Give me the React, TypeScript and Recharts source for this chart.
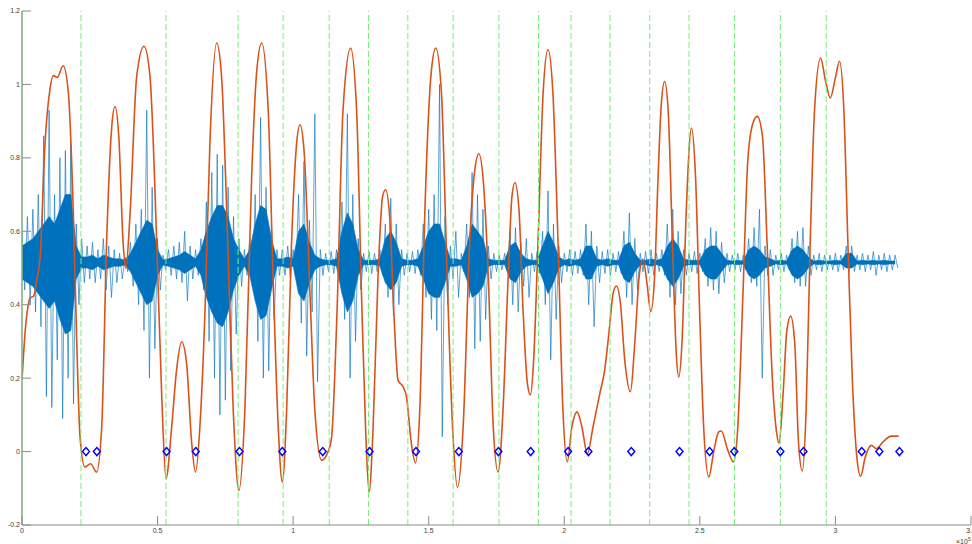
import React from 'react';
import { ComposedChart, Line, Area, Scatter, XAxis, YAxis, ReferenceLine } from 'recharts';

// x in units of 1e5 samples
const xTicks = [0, 0.5, 1, 1.5, 2, 2.5, 3, 3.5];
const yTicks = [-0.2, 0, 0.2, 0.4, 0.6, 0.8, 1, 1.2];

// waveform readings, one every 0.02 (x1e5): spike extremes and dense core band
const WAVE_STEP = 0.02;
const waveHi = [
  .60, .64, .66, .70, .86, .93, .70, .80, .82, .84,
  .62, .58, .56, .57, .55, .58, .56, .55, .54, .53,
  .57, .62, .66, .93, .72, .58, .535, .55, .56, .57,
  .60, .56, .55, .58, .68, .76, .81, .78, .72, .64,
  .58, .55, .58, .70, .91, .72, .62, .55, .55, .56,
  .55, .70, .79, .63, .92, .55, .54, .545, .55, .68,
  .92, .70, .58, .54, .545, .54, .55, .62, .69, .62,
  .55, .54, .545, .55, .62, .66, .70, 1.00, .64, .56,
  .60, .54, .62, .76, .70, .66, .56, .54, .535, .54,
  .60, .61, .57, .58, .54, .545, .60, .71, .62, .56,
  .54, .55, .545, .55, .62, .60, .56, .545, .55, .54,
  .545, .60, .65, .58, .54, .545, .55, .54, .55, .62,
  .66, .60, .55, .54, .545, .54, .58, .61, .60, .57,
  .54, .535, .54, .535, .58, .61, .66, .56, .55, .535,
  .54, .535, .58, .60, .61, .56, .535, .54, .535, .535,
  .54, .535, .56, .56, .535, .54, .535, .545, .535, .54,
  .535, .535,
];
const waveLo = [
  .44, .40, .38, .34, .15, .12, .25, .09, .20, .13,
  .40, .46, .47, .46, .47, .44, .42, .46, .47, .49,
  .45, .40, .33, .20, .28, .44, .495, .48, .47, .46,
  .41, .47, .48, .44, .30, .20, .10, .14, .22, .32,
  .45, .48, .45, .30, .20, .22, .36, .48, .48, .47,
  .48, .35, .26, .38, .19, .48, .49, .485, .48, .36,
  .20, .30, .44, .49, .485, .49, .48, .42, .37, .40,
  .48, .49, .485, .48, .42, .36, .33, .04, .40, .47,
  .42, .49, .42, .28, .30, .36, .47, .49, .495, .49,
  .40, .38, .45, .42, .49, .485, .40, .25, .36, .46,
  .49, .48, .485, .48, .40, .34, .46, .485, .48, .49,
  .485, .42, .40, .44, .49, .485, .48, .49, .48, .42,
  .40, .43, .48, .49, .485, .49, .45, .44, .43, .46,
  .49, .495, .49, .495, .46, .45, .20, .48, .48, .495,
  .49, .495, .46, .45, .45, .48, .495, .49, .495, .495,
  .49, .495, .49, .49, .495, .49, .495, .48, .495, .49,
  .495, .50,
];
const coreHi = [
  .56, .57, .58, .60, .62, .64, .62, .66, .70, .70,
  .56, .53, .53, .535, .525, .535, .53, .525, .525, .522,
  .54, .57, .60, .63, .62, .55, .522, .525, .53, .535,
  .545, .535, .525, .55, .60, .64, .67, .67, .64, .58,
  .55, .525, .55, .62, .67, .66, .58, .525, .525, .53,
  .525, .60, .62, .57, .535, .525, .521, .521, .525, .60,
  .65, .62, .55, .521, .521, .521, .525, .58, .60, .57,
  .525, .521, .521, .525, .56, .60, .62, .62, .57, .525,
  .525, .521, .56, .62, .60, .58, .525, .521, .521, .521,
  .56, .57, .54, .525, .521, .521, .56, .60, .57, .53,
  .521, .525, .521, .525, .56, .56, .525, .521, .525, .521,
  .521, .56, .57, .54, .521, .521, .525, .521, .525, .56,
  .58, .56, .525, .521, .521, .521, .55, .56, .56, .54,
  .521, .519, .521, .519, .55, .56, .55, .53, .525, .519,
  .521, .519, .55, .56, .55, .53, .519, .521, .519, .519,
  .521, .519, .54, .54, .519, .521, .519, .521, .519, .521,
  .519, .519,
];
const coreLo = [
  .47, .46, .45, .43, .41, .39, .41, .36, .32, .33,
  .47, .50, .50, .495, .505, .495, .50, .505, .505, .508,
  .49, .46, .43, .40, .41, .48, .508, .505, .50, .495,
  .485, .495, .505, .48, .42, .38, .35, .34, .38, .44,
  .48, .505, .48, .41, .36, .37, .44, .505, .505, .50,
  .505, .43, .41, .46, .495, .505, .509, .509, .505, .43,
  .38, .41, .48, .509, .509, .509, .505, .46, .44, .46,
  .505, .509, .509, .505, .47, .43, .42, .42, .46, .505,
  .505, .509, .47, .42, .43, .45, .505, .509, .509, .509,
  .47, .46, .49, .505, .509, .509, .47, .43, .46, .50,
  .509, .505, .509, .505, .47, .47, .505, .509, .505, .509,
  .509, .47, .46, .49, .509, .509, .505, .509, .505, .47,
  .45, .47, .505, .509, .509, .509, .48, .47, .47, .49,
  .509, .511, .509, .511, .48, .47, .48, .50, .505, .511,
  .509, .511, .48, .47, .48, .50, .511, .509, .511, .511,
  .509, .511, .50, .50, .511, .509, .511, .509, .511, .509,
  .511, .511,
];

// smooth orange curve, key points
const envX = [
  0, .012, .022, .030, .043, .055, .067, .085, .103, .115,
  .130, .152, .171, .189, .202, .214, .232, .253, .275, .294,
  .312, .331, .343, .357, .373, .383, .398, .423, .450, .472,
  .497, .515, .531, .552, .570, .589, .607, .626, .640, .656,
  .675, .693, .718, .736, .755, .779, .800, .822, .847, .865,
  .884, .908, .926, .945, .960, .976, .994, 1.013, 1.025, 1.040,
  1.062, 1.080, 1.105, 1.129, 1.142, 1.162, 1.184, 1.212, 1.234, 1.252,
  1.267, 1.280, 1.295, 1.313, 1.330, 1.341, 1.356, 1.371, 1.387, 1.406,
  1.418, 1.436, 1.451, 1.467, 1.486, 1.508, 1.526, 1.547, 1.568, 1.588,
  1.606, 1.627, 1.651, 1.670, 1.685, 1.703, 1.720, 1.738, 1.756, 1.774,
  1.793, 1.807, 1.818, 1.833, 1.848, 1.864, 1.875, 1.887, 1.903, 1.922,
  1.940, 1.958, 1.977, 1.995, 2.011, 2.028, 2.047, 2.065, 2.085, 2.106,
  2.131, 2.149, 2.167, 2.180, 2.192, 2.207, 2.223, 2.244, 2.260, 2.276,
  2.290, 2.305, 2.319, 2.333, 2.346, 2.358, 2.370, 2.383, 2.399, 2.413,
  2.422, 2.434, 2.450, 2.469, 2.484, 2.499, 2.514, 2.533, 2.552, 2.570,
  2.579, 2.603, 2.624, 2.640, 2.659, 2.677, 2.696, 2.712, 2.731, 2.748,
  2.767, 2.782, 2.792, 2.807, 2.821, 2.835, 2.850, 2.864, 2.878, 2.892,
  2.907, 2.923, 2.945, 2.964, 2.981, 3.001, 3.015, 3.031, 3.046, 3.062,
  3.079, 3.093, 3.110, 3.132, 3.151, 3.175, 3.206, 3.233,
];
const envY = [
  .195, .33, .395, .418, .424, .47, .53, .84, .986, 1.024,
  1.019, 1.051, .977, .658, .295, .040, -.042, -.033, -.056, .067,
  .568, .885, .940, .858, .568, .499, .640, 1.022, 1.104, 1.022,
  .568, .159, -.074, .067, .222, .299, .240, .022, -.056, .067,
  .385, .840, 1.113, 1.022, .658, .113, -.106, .113, .749, 1.03,
  1.113, .931, .476, .067, -.083, .113, .567, .840, .890, .822,
  .431, .113, -.024, 0, .040, .385, .931, 1.099, .931, .431,
  .067, -.110, .067, .476, .695, .713, .640, .385, .194, .176,
  .149, .022, -.031, .113, .658, 1.022, 1.099, .977, .476, .067,
  -.098, .067, .567, .767, .811, .72, .47, .067, -.056, .113,
  .476, .695, .733, .658, .385, .185, .154, .249, .567, .977,
  1.095, .977, .567, .113, -.028, .067, .108, .067, -.006, .067,
  .158, .222, .340, .431, .451, .404, .249, .163, .295, .476,
  .524, .458, .381, .476, .749, .949, 1.008, .931, .567, .267,
  .203, .295, .658, .881, .749, .385, .067, -.069, .004, .054,
  .056, .004, -.028, .067, .431, .795, .895, .913, .858, .567,
  .203, .058, .023, .158, .331, .369, .295, .022, -.053, .113,
  .567, .931, 1.072, 1.008, .963, 1.022, 1.063, .931, .567, .203,
  -.015, -.067, -.015, .017, .008, .026, .042, .042,
];

// segment boundaries (green dashed) and detected points (diamonds at 0)
const boundaries = [
  .2175, .531, .797, .963, 1.133, 1.278, 1.423, 1.590, 1.759,
  1.905, 2.025, 2.169, 2.315, 2.460, 2.628, 2.797, 2.966,
];
const markers = [
  .236, .276, .533, .641, .802, .960, 1.109, 1.282, 1.453, 1.611, 1.757, 1.876,
  2.014, 2.089, 2.247, 2.425, 2.536, 2.627, 2.797, 2.882, 3.097, 3.162, 3.236,
];

const spikeData = waveHi.flatMap((v, i) => [
  { x: i * WAVE_STEP, y: v },
  { x: i * WAVE_STEP + WAVE_STEP / 2, y: waveLo[i] },
]);
const coreData = coreHi.map((v, i) => ({ x: i * WAVE_STEP, band: [coreLo[i], v] }));
const envData = envX.map((x, i) => ({ x, y: envY[i] }));
const markerData = markers.map((x) => ({ x, y: 0 }));

const BLUE = '#0072BD';
const AXIS = '#8c8c8c';
const LABEL = '#404040';
const GREEN = '#78ee78';
const TICK = 9;
const FONT = '"Liberation Sans", Arial, sans-serif';

const fmt = (v: number) => String(v);

function BottomTick({ x, y, payload }: any) {
  return (
    <g>
      <line x1={x} x2={x} y1={y - 6} y2={y - 6 - TICK} stroke={AXIS} />
      <text x={x} y={y} dy="0.35em" textAnchor="middle" fontSize={7} fill={LABEL} fontFamily={FONT}>
        {fmt(payload.value)}
      </text>
    </g>
  );
}

function LeftTick({ x, y, payload }: any) {
  return (
    <g>
      <line x1={x + 2} x2={x + 2 + TICK} y1={y} y2={y} stroke={AXIS} />
      <text x={x} y={y} dy="0.35em" textAnchor="end" fontSize={7} fill={LABEL} fontFamily={FONT}>
        {fmt(payload.value)}
      </text>
    </g>
  );
}

function TopTick({ x, y }: any) {
  return <line x1={x} x2={x} y1={y} y2={y + TICK} stroke={AXIS} />;
}

function RightTick({ x, y }: any) {
  return <line x1={x - TICK} x2={x} y1={y} y2={y} stroke={AXIS} />;
}

function Diamond({ cx, cy }: any) {
  return (
    <path
      d={`M${cx},${cy - 4}L${cx + 3.5},${cy}L${cx},${cy + 4}L${cx - 3.5},${cy}Z`}
      fill="none"
      stroke="#0000ff"
      strokeWidth={1.4}
    />
  );
}

export default function App() {
  return (
    <div style={{ position: 'absolute', left: 0, top: 0, width: 972, height: 544, background: '#fff' }}>
      <ComposedChart width={972} height={544} margin={{ top: 11, right: 1, bottom: 0, left: 0 }}>
        <XAxis
          dataKey="x"
          type="number"
          domain={[0, 3.5]}
          ticks={xTicks}
          interval={0}
          height={19}
          tickSize={0}
          tickMargin={6}
          tick={<BottomTick />}
          axisLine={{ stroke: AXIS }}
          allowDataOverflow
        />
        <XAxis
          xAxisId="top"
          orientation="top"
          type="number"
          domain={[0, 3.5]}
          ticks={xTicks}
          interval={0}
          height={0}
          tickSize={0}
          tickMargin={0}
          tick={<TopTick />}
          axisLine={{ stroke: AXIS }}
        />
        <YAxis
          type="number"
          domain={[-0.2, 1.2]}
          ticks={yTicks}
          interval={0}
          width={22}
          tickSize={0}
          tickMargin={2}
          tick={<LeftTick />}
          axisLine={{ stroke: AXIS }}
          allowDataOverflow
        />
        <YAxis
          yAxisId="right"
          orientation="right"
          type="number"
          domain={[-0.2, 1.2]}
          ticks={yTicks}
          interval={0}
          width={0}
          tickSize={0}
          tickMargin={0}
          tick={<RightTick />}
          axisLine={{ stroke: AXIS }}
        />
        <Line
          data={spikeData}
          dataKey="y"
          type="linear"
          stroke={BLUE}
          strokeOpacity={0.8}
          strokeWidth={0.8}
          dot={false}
          activeDot={false}
          isAnimationActive={false}
        />
        <Area
          data={coreData}
          dataKey="band"
          type="linear"
          stroke={BLUE}
          strokeWidth={0.6}
          fill={BLUE}
          fillOpacity={1}
          dot={false}
          activeDot={false}
          isAnimationActive={false}
        />
        <Line
          data={envData}
          dataKey="y"
          type="monotone"
          stroke="#D95319"
          strokeWidth={1.6}
          dot={false}
          activeDot={false}
          isAnimationActive={false}
        />
        <ReferenceLine x={0} stroke={GREEN} strokeWidth={1.2} />
        {boundaries.map((b) => (
          <ReferenceLine key={b} x={b} stroke={GREEN} strokeWidth={1} strokeDasharray="6 3" />
        ))}
        <Scatter data={markerData} dataKey="y" shape={<Diamond />} isAnimationActive={false} />
      </ComposedChart>
      <svg
        width={972}
        height={544}
        style={{ position: 'absolute', left: 0, top: 0, pointerEvents: 'none' }}
      >
        <text x={956} y={544} fontSize={7} fill={LABEL} fontFamily={FONT}>
          ×10
          <tspan dy={-3} fontSize={5}>5</tspan>
        </text>
      </svg>
    </div>
  );
}
